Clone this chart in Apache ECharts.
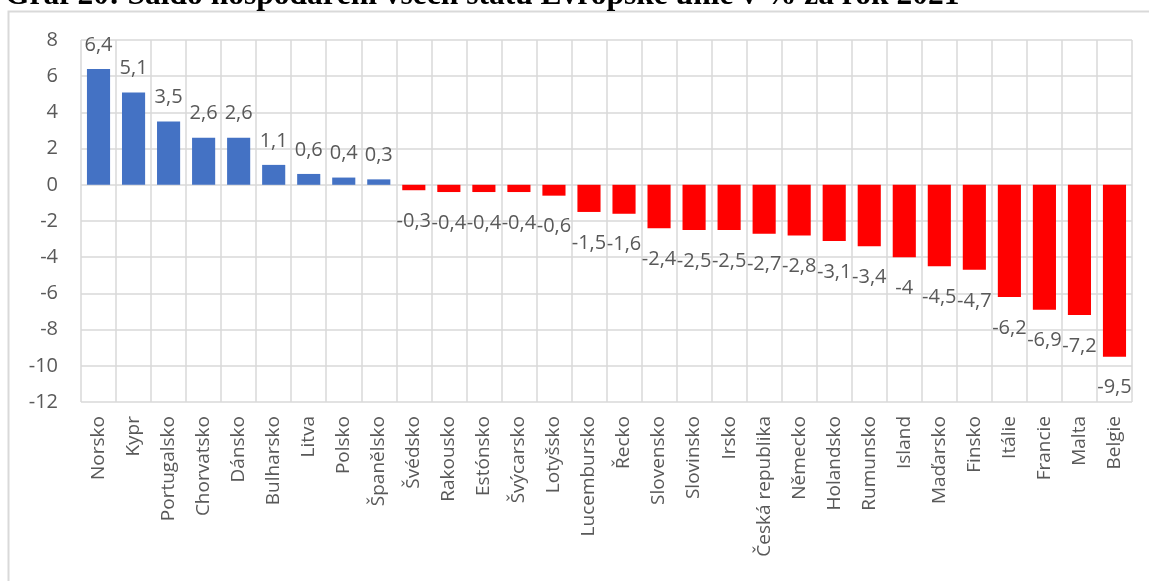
<!DOCTYPE html>
<html>
<head>
<meta charset="utf-8">
<script src="https://cdn.jsdelivr.net/npm/echarts@6/dist/echarts.min.js"></script>
<style>
html,body{margin:0;padding:0;background:#fff;}
#chart{width:1149px;height:581px;}
</style>
</head>
<body>
<div id="chart"></div>
<script>
const titleText = 'Graf 20: Saldo hospodaření všech států Evropské unie v % za rok 2021';
const categories = ['Norsko','Kypr','Portugalsko','Chorvatsko','Dánsko','Bulharsko','Litva','Polsko','Španělsko','Švédsko','Rakousko','Estónsko','Švýcarsko','Lotyšsko','Lucembursko','Řecko','Slovensko','Slovinsko','Irsko','Česká republika','Německo','Holandsko','Rumunsko','Island','Maďarsko','Finsko','Itálie','Francie','Malta','Belgie'];
const values = [6.4,5.1,3.5,2.6,2.6,1.1,0.6,0.4,0.3,-0.3,-0.4,-0.4,-0.4,-0.6,-1.5,-1.6,-2.4,-2.5,-2.5,-2.7,-2.8,-3.1,-3.4,-4,-4.5,-4.7,-6.2,-6.9,-7.2,-9.5];
const yMin = -12, yMax = 8, yStep = 2;
const posColor = '#4472C4', negColor = '#FF0000';
const textColor = '#595959', gridColor = '#d9d9d9';
const font = '"Open Sans", sans-serif';

const chart = echarts.init(document.getElementById('chart'));
const data = values.map(v => ({
  value: v,
  itemStyle: { color: v >= 0 ? posColor : negColor },
  label: { position: v >= 0 ? 'top' : 'bottom', distance: v >= 0 ? 14 : 21 }
}));
chart.setOption({
  animation: false,
  graphic: [
    { type: 'rect', silent: true, shape: { x: 8.5, y: 11.5, width: 1300, height: 700 },
      style: { fill: 'none', stroke: gridColor, lineWidth: 2 } },
    { type: 'text', silent: true, x: 5, y: -20,
      style: { text: titleText, font: 'bold 31.5px "Liberation Serif", "Times New Roman", serif', fill: '#000', verticalAlign: 'top' } }
  ],
  grid: { left: 81, right: 17, top: 40, bottom: 179, containLabel: false },
  xAxis: {
    type: 'category',
    data: categories,
    axisLine: { show: false, onZero: false },
    axisTick: { show: false },
    splitLine: { show: true, lineStyle: { color: gridColor, width: 1.5 } },
    axisLabel: { rotate: 90, interval: 0, margin: 14, color: textColor, fontSize: 19, fontFamily: font }
  },
  yAxis: {
    type: 'value',
    min: yMin, max: yMax, interval: yStep,
    axisLine: { show: false },
    axisTick: { show: false },
    splitLine: { show: true, lineStyle: { color: gridColor, width: 1.5 } },
    axisLabel: { margin: 23, color: textColor, fontSize: 20, fontFamily: font }
  },
  series: [{
    type: 'bar',
    data: data,
    barCategoryGap: '34%',
    label: {
      show: true,
      color: textColor,
      fontSize: 20,
      fontFamily: font,
      formatter: p => String(p.value).replace('.', ',')
    }
  }]
});
</script>
</body>
</html>
